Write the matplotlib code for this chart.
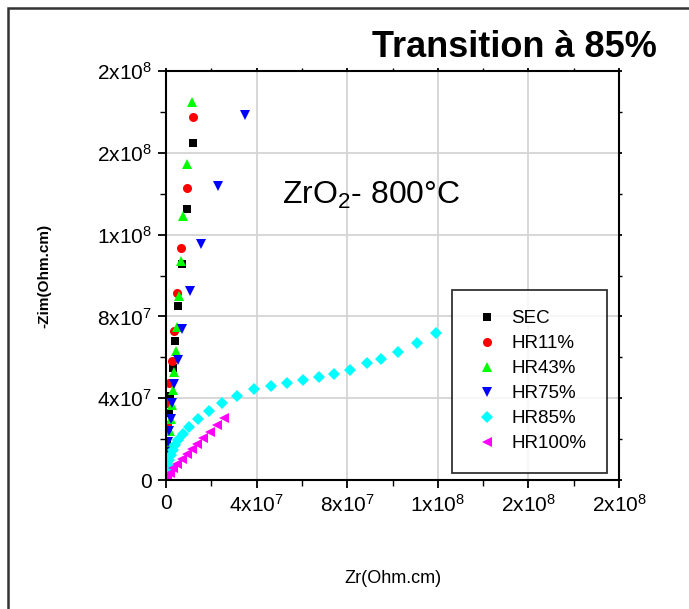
import numpy as np
import matplotlib
matplotlib.use("Agg")
import matplotlib.pyplot as plt
from matplotlib.patches import Rectangle

plt.rcParams["font.family"] = ["Liberation Sans", "DejaVu Sans"]
plt.rcParams["mathtext.fontset"] = "custom"
plt.rcParams["mathtext.rm"] = "Liberation Sans"
plt.rcParams["mathtext.it"] = "Liberation Sans:italic"
plt.rcParams["mathtext.bf"] = "Liberation Sans:bold"

# values in 1e6 Ohm.cm
sec_x = [0.2, 0.4, 0.6, 0.9, 1.3, 1.9, 3.0, 4.0, 5.4, 6.9, 9.4, 12.1]
sec_y = [5, 12, 19, 26, 33, 41, 54.6, 68, 85, 105.6, 132.4, 164.6]

hr11_x = [0.1, 0.2, 0.4, 0.6, 1.3, 2.5, 3.7, 5.0, 6.6, 9.1, 12.1]
hr11_y = [8, 16, 27, 37.7, 47.4, 58.3, 73, 91.3, 113.6, 142.6, 177.4]

hr43_x = [0.4, 0.8, 1.2, 1.6, 2.0, 2.5, 3.2, 3.7, 4.3, 4.7, 5.6, 6.6, 7.6, 9.4, 11.5]
hr43_y = [5, 11, 17, 24, 30, 36.7, 44, 53, 63, 75, 90, 107.2, 129.2, 154.4, 185]

hr75_x = [0.1, 0.3, 0.6, 1.0, 1.5, 2.1, 2.6, 3.7, 5.2, 7.2, 10.6, 15.5, 23.1, 34.9]
hr75_y = [3, 8, 13.8, 18.7, 24.1, 29.7, 37.5, 46.9, 58.7, 73.7, 92.6, 115.4, 143.8, 178.5]

hr85_x = [0.1, 0.3, 0.6, 1.0, 1.5, 2.1, 3.0, 4.0, 5.4, 7.4, 10.3, 14.0, 19.0, 24.6,
          31.5, 38.9, 46.4, 53.4, 60.6, 67.6, 74.3, 81.2, 88.7, 94.8, 102.6, 110.7, 119.1]
hr85_y = [1, 2.8, 4.9, 7.3, 9.8, 12.2, 14.7, 17.1, 19.6, 22.5, 26.1, 29.7, 33.7, 37.5,
          41.1, 44.3, 46.1, 47.4, 48.9, 50.2, 51.8, 53.8, 57.2, 59.2, 62.7, 67.1, 71.7]

hr100_x = [0.2, 0.6, 1.8, 3.2, 5.0, 6.9, 9.1, 11.3, 13.8, 16.5, 19.4, 22.4, 25.6]
hr100_y = [0.5, 2.0, 3.6, 5.7, 7.8, 10.3, 12.7, 15.0, 17.6, 20.4, 23.6, 26.9, 30.2]

tick_vals = [0, 4e7, 8e7, 1.2e8, 1.6e8, 2e8]
tick_labels = ["0", r"$\mathregular{4x10^{7}}$", r"$\mathregular{8x10^{7}}$",
               r"$\mathregular{1x10^{8}}$", r"$\mathregular{2x10^{8}}$", r"$\mathregular{2x10^{8}}$"]

series = [
    ("SEC", sec_x, sec_y, "s", "black", 6),
    ("HR11%", hr11_x, hr11_y, "o", "#ff0000", 6.5),
    ("HR43%", hr43_x, hr43_y, "^", "#00ff00", 7.5),
    ("HR75%", hr75_x, hr75_y, "v", "#0000ff", 7.5),
    ("HR85%", hr85_x, hr85_y, "D", "#00ffff", 6.5),
    ("HR100%", hr100_x, hr100_y, "<", "#ff00ff", 7.5),
]

fig = plt.figure(figsize=(6.89, 6.09), dpi=100)
ax = fig.add_axes([166 / 689, 1 - 480 / 609, 453 / 689, 409 / 609])

for name, xs, ys, m, c, ms in series:
    ax.plot(np.array(xs) * 1e6, np.array(ys) * 1e6, linestyle="none", marker=m,
            color=c, markersize=ms, markeredgewidth=0, label=name)

ax.set_xlim(0, 2e8)
ax.set_ylim(0, 2e8)
ax.set_xticks(tick_vals)
ax.set_xticklabels(tick_labels, fontsize=15)
ax.set_yticks(tick_vals)
ax.set_yticklabels(tick_labels, fontsize=15)
ax.set_xticks(np.arange(2e7, 2e8, 4e7), minor=True)
ax.set_yticks(np.arange(2e7, 2e8, 4e7), minor=True)
ax.tick_params(which="major", direction="out", length=6, width=1.3, pad=4)
ax.tick_params(which="minor", direction="out", length=4, width=1.0)
ax.tick_params(which="both", top=True, right=True, labeltop=False, labelright=False)
# short ticks on the top and right spines
for t in ax.xaxis.get_ticklines(minor=False)[1::2] + ax.yaxis.get_ticklines(minor=False)[1::2]:
    t.set_markersize(2)
for t in ax.xaxis.get_ticklines(minor=True)[1::2] + ax.yaxis.get_ticklines(minor=True)[1::2]:
    t.set_markersize(2)
ax.grid(True, which="major", color="#d4d4d4", linewidth=1.3)
ax.set_axisbelow(True)
for s in ax.spines.values():
    s.set_linewidth(1.5)

ax.set_xlabel("Zr(Ohm.cm)", fontsize=13, labelpad=39)
ax.set_ylabel("-Zim(Ohm.cm)", fontsize=11, fontweight="bold", labelpad=33)

ax.text(0.255, 0.675, r"ZrO$_\mathregular{2}$- 800°C", transform=ax.transAxes, fontsize=23)

leg = ax.legend(loc="lower right", bbox_to_anchor=(0.974, 0.017), fontsize=13.5,
                frameon=True, fancybox=False, borderpad=1.1, handlelength=1.6,
                handletextpad=0.5, labelspacing=0.42, borderaxespad=0)
leg.get_frame().set_edgecolor("black")
leg.get_frame().set_linewidth(1.3)

fig.text(657 / 689, 1 - 57 / 609, "Transition à 85%", fontsize=26, fontweight="bold",
         ha="right", va="baseline")

fig.patches.append(Rectangle((8 / 689, -0.1), 1.2, 1 - 8 / 609 + 0.1, transform=fig.transFigure,
                             fill=False, edgecolor="#333333", linewidth=1.8))

plt.savefig("out.png", dpi=100)
